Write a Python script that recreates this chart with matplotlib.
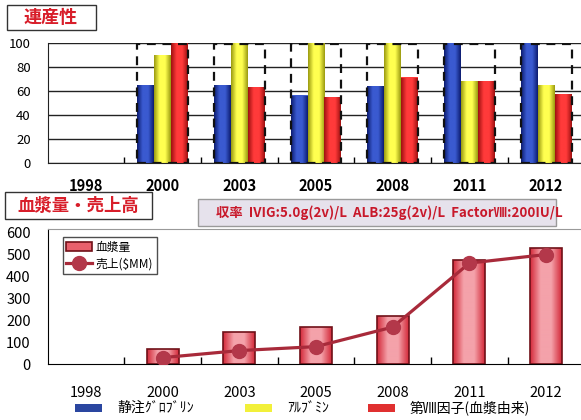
import matplotlib
matplotlib.use('Agg')
import matplotlib.pyplot as plt
import numpy as np
from matplotlib.patches import Rectangle
from matplotlib.colors import LinearSegmentedColormap

plt.rcParams['font.family'] = ['Noto Sans CJK JP', 'DejaVu Sans']

years = ['1998', '2000', '2003', '2005', '2008', '2011', '2012']
# 連産性
ivig = [None, 65, 65, 56, 64, 100, 100]
alb = [None, 90, 100, 100, 100, 68, 65]
f8 = [None, 100, 63, 55, 71, 68, 57]
# 血漿量・売上高
plasma = [None, 68, 144, 168, 220, 472, 527]
sales = [np.nan, 29, 61, 79, 168, 459, 498]

series_names = ['静注ｸﾞﾛﾌﾞﾘﾝ', 'ｱﾙﾌﾞﾐﾝ', '第Ⅷ因子(血漿由来)']
series_cols = ['#2a46a0', '#f2f03a', '#e03030']
info = '収率  IVIG:5.0g(2v)/L  ALB:25g(2v)/L  FactorⅧ:200IU/L'

W, H = 581, 420


def fx(px):
    return px / W


def fy(py):
    return 1 - py / H


def grad_bars(ax, xs, hs, w, dark, light, edge=None, lw=0, label=None):
    cmap = LinearSegmentedColormap.from_list('g', [dark, light, light, dark])
    xx = [x for x, h in zip(xs, hs) if h is not None]
    hh = [h for h in hs if h is not None]
    bars = ax.bar(xx, hh, w, color=light, edgecolor='none', zorder=2)
    for b in bars:
        im = ax.imshow(np.linspace(0, 1, 64).reshape(1, -1), cmap=cmap, aspect='auto',
                       extent=(b.get_x(), b.get_x() + b.get_width(), 0, b.get_height()),
                       zorder=2.1, interpolation='bilinear')
        im.set_clip_path(b)
    if edge is not None:
        return ax.bar(xx, hh, w, facecolor='none', edgecolor=edge, linewidth=lw, zorder=2.2,
                      label=label)
    return bars


fig = plt.figure(figsize=(W / 100, H / 100), dpi=100)
x = np.arange(len(years))

# ---- 上段: 連産性
ax1 = fig.add_axes([fx(47.5), fy(162.7), fx(537), (162.7 - 42.7) / H])
bw = 0.221
grad_bars(ax1, x - bw, ivig, bw, '#0c1c70', '#3a5ad0')
grad_bars(ax1, x, alb, bw, '#9a9a10', '#ffff50')
grad_bars(ax1, x + bw, f8, bw, '#a01010', '#ff3a3a')
gx = [xi for xi, v in zip(x, ivig) if v is not None]
ax1.bar(gx, [99] * len(gx), bw * 3, fill=False, edgecolor='#111111', linestyle=(0, (4, 3)),
        linewidth=1.6, zorder=3)
ax1.set_xlim(-0.5, 6.5)
ax1.set_ylim(0, 100)
ax1.set_yticks(range(0, 101, 20))
ax1.yaxis.grid(True, color='#222222', linewidth=1)
ax1.set_axisbelow(True)
ax1.set_xticks(x[:-1] + 0.5)
ax1.set_xticklabels([])
ax1.set_xticks(x, minor=True)
ax1.set_xticklabels(years, minor=True, fontweight='bold', fontsize=10.5)
ax1.tick_params(axis='x', which='major', direction='in', length=4, width=1)
ax1.tick_params(axis='x', which='minor', length=0, pad=11)
ax1.tick_params(axis='y', length=0, pad=12, labelsize=9.5)
for s in ['top', 'right']:
    ax1.spines[s].set_visible(False)
ax1.spines['left'].set_color('#222222')
ax1.spines['bottom'].set_color('#222222')

# ---- 下段: 血漿量・売上高
ax2 = fig.add_axes([fx(47.5), fy(364), fx(537), (364 - 229) / H])
bar_h = grad_bars(ax2, x, plasma, 0.416, '#d42a3a', '#f4a2aa', edge='#701018', lw=1.2,
                  label='血漿量')
line_h, = ax2.plot(x, sales, color='#a82a3a', linewidth=2.3, marker='o', markersize=10,
                   markerfacecolor='#b3384a', markeredgecolor='#b3384a', zorder=4,
                   label='売上($MM)')
ax2.set_xlim(-0.5, 6.5)
ax2.set_ylim(0, 614)
ax2.set_yticks(range(0, 601, 100))
ax2.set_xticks(x[:-1] + 0.5)
ax2.set_xticklabels([])
ax2.set_xticks(x, minor=True)
ax2.set_xticklabels(years, minor=True, fontsize=10.5)
ax2.tick_params(axis='x', which='major', direction='in', length=5, width=1)
ax2.tick_params(axis='x', which='minor', length=0, pad=16)
ax2.tick_params(axis='y', length=0, pad=12, labelsize=10.5)
ax2.spines['right'].set_visible(False)
ax2.spines['top'].set_color('#999999')
leg = ax2.legend([bar_h, line_h], ['血漿量', '売上($MM)'], loc='upper left',
                 bbox_to_anchor=(0.028, 0.94), fontsize=8.5, frameon=True,
                 fancybox=False, edgecolor='#222222', handlelength=2.2, borderpad=0.3,
                 labelspacing=0.3, handletextpad=0.3, borderaxespad=0)
leg.get_frame().set_linewidth(1)
leg.legend_handles[0].set_facecolor('#e8606c')

# ---- タイトル枠
fig.add_artist(Rectangle((fx(7), fy(30)), fx(89), 25 / H, transform=fig.transFigure,
                         facecolor='white', edgecolor='#333333', linewidth=1))
fig.text(fx(51), fy(17.5), '連産性', color='#d81e2a', fontsize=13, fontweight='bold',
         ha='center', va='center')
fig.add_artist(Rectangle((fx(5), fy(219)), fx(147), 27 / H, transform=fig.transFigure,
                         facecolor='white', edgecolor='#333333', linewidth=1))
fig.text(fx(78), fy(205.5), '血漿量・売上高', color='#d81e2a', fontsize=12.5, fontweight='bold',
         ha='center', va='center')
fig.add_artist(Rectangle((fx(198), fy(226)), fx(358), 27 / H, transform=fig.transFigure,
                         facecolor='#e6e2ec', edgecolor='#9a9a9a', linewidth=1))
fig.text(fx(216), fy(212.5), info, color='#c8182a', fontsize=9.6, fontweight='bold',
         ha='left', va='center')

# ---- 下部凡例
lx = [75, 245, 368]
for px, name, col in zip(lx, series_names, series_cols):
    fig.add_artist(Rectangle((fx(px), fy(412)), fx(27), 8 / H, transform=fig.transFigure,
                             facecolor=col, edgecolor='none'))
    fig.text(fx(px + 42), fy(408), name, fontsize=10, ha='left', va='center')

fig.savefig('out.png', dpi=100)
